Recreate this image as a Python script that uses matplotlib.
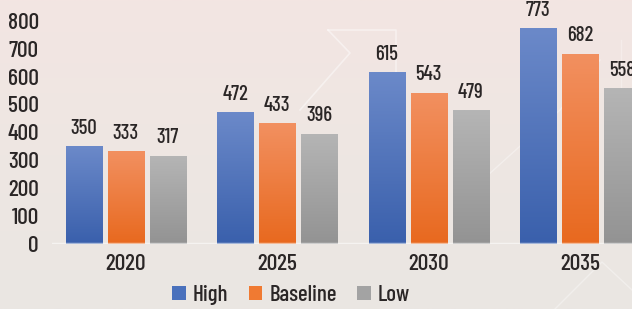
import numpy as np
import matplotlib
matplotlib.use("Agg")
from matplotlib import pyplot as plt
from matplotlib.colors import LinearSegmentedColormap
from matplotlib.patches import Patch

# chart data
years = ["2020", "2025", "2030", "2035"]
series = ["High", "Baseline", "Low"]
high = [350, 472, 615, 773]
baseline = [333, 433, 543, 682]
low = [317, 396, 479, 558]
yticks = [0, 100, 200, 300, 400, 500, 600, 700, 800]

plt.rcParams['font.family'] = ['Barlow Condensed', 'Liberation Sans Narrow', 'DejaVu Sans']
plt.rcParams['font.weight'] = 'medium'

# gradient ends for each series (top, bottom)
grads = [("#6B89C9", "#3A60AC"), ("#F29060", "#E8691F"), ("#B5B5B5", "#939393")]
solid = ["#4A6FB8", "#F07A2E", "#A5A5A5"]
txt = "#2A2626"

W, H = 632, 309
fig = plt.figure(figsize=(W / 100, H / 100), dpi=100)

# background gradient + faint decoration
bg = fig.add_axes([0, 0, 1, 1], zorder=-10)
bg_cmap = LinearSegmentedColormap.from_list("bg", ["#F3E5E2", "#EEE7E3", "#EAE6E2"])
bg.imshow(np.linspace(0, 1, 200).reshape(-1, 1), cmap=bg_cmap, aspect="auto",
          extent=[0, W, H, 0])
lc = dict(color="white", alpha=0.45, lw=1.2)
bg.plot([328, 396, 396], [30, 30, 95], **lc)
bg.plot([328, 350, 300], [30, 53, 110], **lc)
bg.plot([477, 560, 600], [185, 110, 60], color="white", alpha=0.35, lw=1)
bg.plot([555, 602, 632], [309, 262, 290], color="white", alpha=0.35, lw=1)
bg.plot([621, 621], [40, 90], color="white", alpha=0.3, lw=1)
bg.set_xlim(0, W)
bg.set_ylim(H, 0)
bg.axis("off")

# main axes: baseline at 244 px from top, 27.9 px per 100
base_px = 244
top_val = base_px / 0.279
ax = fig.add_axes([52 / W, (H - base_px) / H, 1 - 52 / W, base_px / H])
ax.patch.set_alpha(0)

x = np.arange(len(years))
pitch = 0.2776
width = 0.238
for i, vals in enumerate([high, baseline, low]):
    bars = ax.bar(x + (i - 1) * pitch, vals, width, color=solid[i], zorder=2)
    cmap = LinearSegmentedColormap.from_list("g%d" % i, list(grads[i]))
    for b, v in zip(bars, vals):
        x0, w = b.get_x(), b.get_width()
        im = ax.imshow(np.linspace(0, 1, 100).reshape(-1, 1), cmap=cmap, aspect="auto",
                       extent=[x0, x0 + w, 0, v], zorder=3)
        im.set_clip_path(b)
        ax.annotate(str(v), (x0 + w / 2, v), xytext=(0, 6), textcoords="offset points",
                    ha="center", va="bottom", fontsize=15, color=txt, zorder=4,
                    annotation_clip=False)

ax.axhline(0, color="white", alpha=0.55, lw=2.5, zorder=5)

ax.set_xlim(-0.489, 3.344)
ax.set_ylim(0, top_val)
ax.set_yticks(yticks)
ax.set_yticklabels([str(t) for t in yticks], fontsize=17, color=txt)
ax.set_xticks(x)
ax.set_xticklabels(years, fontsize=17, color=txt)
ax.tick_params(axis="y", length=0, pad=9.5)
ax.tick_params(axis="x", length=0, pad=7)
for s in ax.spines.values():
    s.set_visible(False)

handles = [Patch(facecolor=c, label=s) for c, s in zip(["#4A71BC", "#F07A32", "#A3A3A3"], series)]
fig.legend(handles=handles, loc="center", bbox_to_anchor=(291 / W, 14 / H), ncol=3,
           frameon=False, fontsize=16.5, handlelength=0.6, handleheight=0.6,
           handletextpad=0.3, columnspacing=0.9, labelcolor=txt)

fig.savefig("out.png", dpi=100)
